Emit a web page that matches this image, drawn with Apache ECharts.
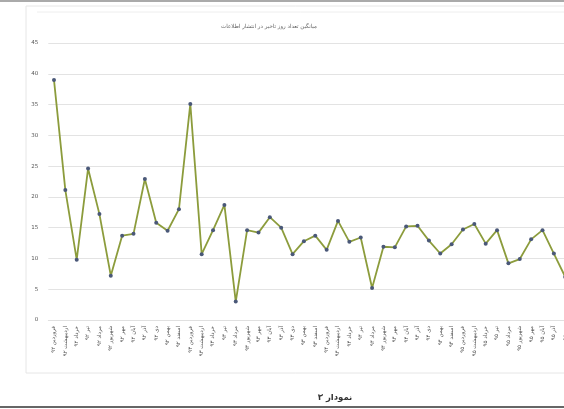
<!DOCTYPE html>
<html>
<head>
<meta charset="utf-8">
<script src="https://cdn.jsdelivr.net/npm/echarts@6/dist/echarts.min.js"></script>
<style>
html,body{margin:0;padding:0;background:#fff;}
#c{width:564px;height:409px;}
</style>
</head>
<body>
<div id="c"></div>
<script>
var chartTitle = 'میانگین تعداد روز تاخیر در انتشار اطلاعات';
var caption = 'نمودار ۳';
var categories = [
  'فروردین ۹۲','اردیبهشت ۹۲','خرداد ۹۲','تیر ۹۲','مرداد ۹۲','شهریور ۹۲','مهر ۹۲','آبان ۹۲','آذر ۹۲','دی ۹۲','بهمن ۹۲','اسفند ۹۲',
  'فروردین ۹۳','اردیبهشت ۹۳','خرداد ۹۳','تیر ۹۳','مرداد ۹۳','شهریور ۹۳','مهر ۹۳','آبان ۹۳','آذر ۹۳','دی ۹۳','بهمن ۹۳','اسفند ۹۳',
  'فروردین ۹۴','اردیبهشت ۹۴','خرداد ۹۴','تیر ۹۴','مرداد ۹۴','شهریور ۹۴','مهر ۹۴','آبان ۹۴','آذر ۹۴','دی ۹۴','بهمن ۹۴','اسفند ۹۴',
  'فروردین ۹۵','اردیبهشت ۹۵','خرداد ۹۵','تیر ۹۵','مرداد ۹۵','شهریور ۹۵','مهر ۹۵','آبان ۹۵','آذر ۹۵','دی ۹۵'
];
var delayDays = [
  39.0, 21.1, 9.8, 24.6, 17.2, 7.2, 13.7, 14.0, 22.9, 15.8, 14.5, 18.0,
  35.1, 10.7, 14.6, 18.7, 3.0, 14.6, 14.2, 16.7, 15.0, 10.7, 12.8, 13.7,
  11.4, 16.1, 12.7, 13.4, 5.2, 11.9, 11.8, 15.2, 15.3, 12.9, 10.8, 12.3,
  14.7, 15.6, 12.4, 14.6, 9.2, 9.9, 13.1, 14.6, 10.8, 7.0
];
var yMin = 0, yMax = 45, yStep = 5;

var chart = echarts.init(document.getElementById('c'));
chart.setOption({
  animation: false,
  backgroundColor: '#fff',
  textStyle: { fontFamily: 'DejaVu Sans' },
  title: [
    { text: chartTitle, left: 264, top: 19, textAlign: 'center',
      textStyle: { fontSize: 5.5, fontWeight: 'normal', color: '#666', fontFamily: 'DejaVu Sans' } },
    { text: caption, left: 330, top: 388, textAlign: 'center',
      textStyle: { fontSize: 8.5, fontWeight: 'bold', color: '#333', fontFamily: 'DejaVu Sans' } }
  ],
  graphic: [
    { type: 'line', shape: { x1: 0, y1: 1, x2: 564, y2: 1 }, style: { stroke: '#aaa', lineWidth: 2 }, silent: true },
    { type: 'rect', shape: { x: 26, y: 6, width: 560, height: 367 }, style: { fill: 'none', stroke: '#e6e6e6', lineWidth: 1 }, silent: true },
    { type: 'line', shape: { x1: 37, y1: 12, x2: 564, y2: 12 }, style: { stroke: '#eee', lineWidth: 1 }, silent: true },
    { type: 'line', shape: { x1: 0, y1: 407, x2: 564, y2: 407 }, style: { stroke: '#666', lineWidth: 2 }, silent: true }
  ],
  grid: { left: 48.3, top: 43, width: 522.6, height: 277, containLabel: false, outerBoundsMode: 'none' },
  xAxis: {
    type: 'category',
    data: categories,
    boundaryGap: true,
    axisLine: { show: true, lineStyle: { color: '#e0e0e0' } },
    axisTick: { show: false },
    axisLabel: { interval: 0, rotate: 90, fontSize: 5.5, color: '#555', margin: 6, fontFamily: 'DejaVu Sans' }
  },
  yAxis: {
    type: 'value',
    min: yMin, max: yMax, interval: yStep,
    axisLine: { show: false },
    axisTick: { show: false },
    axisLabel: { fontSize: 5.5, color: '#555', margin: 10 },
    splitLine: { lineStyle: { color: '#e3e3e3', width: 1.2 } }
  },
  series: [{
    type: 'line',
    data: delayDays,
    symbol: 'circle',
    symbolSize: 4,
    lineStyle: { color: '#8c9c3c', width: 1.8 },
    itemStyle: { color: '#4a5878' }
  }]
});
</script>
</body>
</html>
